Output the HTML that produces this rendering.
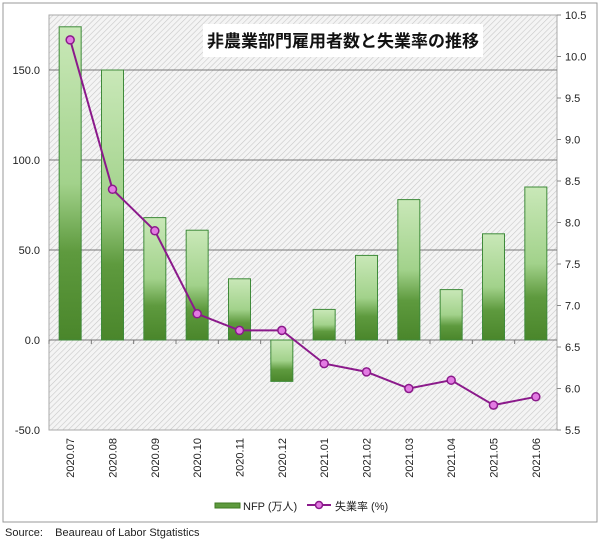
<!DOCTYPE html>
<html><head><meta charset="utf-8"><style>
body{margin:0;background:#fff;width:600px;height:541px;overflow:hidden}
svg{display:block;font-family:"Liberation Sans","Noto Sans CJK JP",sans-serif}
</style></head><body>
<svg id="chart" width="600" height="541">
<defs>
<pattern id="hatch" width="4" height="4" patternUnits="userSpaceOnUse" patternTransform="rotate(45)">
<rect width="4" height="4" fill="#f4f4f4"/><line x1="0" y1="0" x2="0" y2="4" stroke="#c8c8c8" stroke-width="1.2"/>
</pattern>
<linearGradient id="barg" x1="0" y1="0" x2="0" y2="1">
<stop offset="0" stop-color="#c9e8b8"/><stop offset="0.5" stop-color="#a2d28b"/><stop offset="0.72" stop-color="#5e9a3e"/><stop offset="1" stop-color="#4a862b"/>
</linearGradient>
</defs>
<rect x="3" y="3" width="594" height="519" fill="#fff" stroke="#999"/>
<rect x="49" y="15" width="508" height="415" fill="url(#hatch)" stroke="#aaa"/>
<g id="grid"></g><g id="bars"></g><g id="line"></g><g id="axes"></g>
<rect x="203" y="24" width="280" height="33" fill="#fff"/>
<text x="343" y="47" text-anchor="middle" font-size="17" font-weight="bold" fill="#111">非農業部門雇用者数と失業率の推移</text>
<g>
<rect x="215" y="503" width="25" height="5" fill="#5e9a3e" stroke="#3f7a22"/>
<text x="243" y="510" font-size="11" fill="#222">NFP (万人)</text>
<line x1="307" y1="505" x2="331" y2="505" stroke="#8b1a8b" stroke-width="2"/>
<circle cx="319" cy="505" r="3.5" fill="#e27ae2" stroke="#8b1a8b" stroke-width="1.5"/>
<text x="335" y="510" font-size="11" fill="#222">失業率 (%)</text>
</g>
<text x="5" y="536" font-size="11" fill="#222">Source:&#160;&#160;&#160;&#160;Beaureau of Labor Stgatistics</text>
</svg>
<script>
const categories=["2020.07","2020.08","2020.09","2020.10","2020.11","2020.12","2021.01","2021.02","2021.03","2021.04","2021.05","2021.06"];
const nfpValues=[174,150,68,61,34,-23,17,47,78,28,59,85];
const rateValues=[10.2,8.4,7.9,6.9,6.7,6.7,6.3,6.2,6.0,6.1,5.8,5.9];
const leftTicks=[-50,0,50,100,150];
const rightTicks=[5.5,6.0,6.5,7.0,7.5,8.0,8.5,9.0,9.5,10.0,10.5];
const NS="http://www.w3.org/2000/svg";
const X0=49,X1=557,YT=15,YB=430;
const yL=v=>340-v*1.8;
const yR=v=>YB-(v-5.5)/5*(YB-YT);
const bw=(X1-X0)/categories.length;
const xC=i=>X0+bw*(i+0.5);
function mk(tag,attrs,parent){const e=document.createElementNS(NS,tag);for(const k in attrs)e.setAttribute(k,attrs[k]);parent.appendChild(e);return e;}
const grid=document.getElementById('grid'),bars=document.getElementById('bars'),line=document.getElementById('line'),axes=document.getElementById('axes');
leftTicks.forEach(t=>{
 if(t!==-50){const g=mk('line',{x1:X0,x2:X1,y1:yL(t),y2:yL(t),stroke:'#777','stroke-width':1},grid);
 
 }
 const tx=mk('text',{x:40,y:yL(t)+4,'text-anchor':'end','font-size':11,fill:'#222'},axes);tx.textContent=t.toFixed(1);
 
 
});
rightTicks.forEach(t=>{
 const tk=mk('line',{x1:X1,x2:X1+4,y1:yR(t),y2:yR(t),stroke:'#888'},axes);
 
 
 const tx=mk('text',{x:X1+8,y:yR(t)+4,'font-size':11,fill:'#222'},axes);tx.textContent=t.toFixed(1);
 
 
});
categories.forEach((c,i)=>{
 const v=nfpValues[i];const top=Math.min(yL(v),yL(0)),h=Math.abs(yL(v)-yL(0));
 const b=mk('rect',{x:xC(i)-11,y:top,width:22,height:h,fill:'url(#barg)',stroke:'#3f8a3a','stroke-width':1},bars);
 
 
 const tk=mk('line',{x1:X0+bw*i,x2:X0+bw*i,y1:yL(0),y2:yL(0)+4,stroke:'#777'},axes);
 
 
 const tx=mk('text',{x:0,y:0,'font-size':11,fill:'#222','text-anchor':'end',transform:`translate(${xC(i)+4},${YB+8}) rotate(-90)`},axes);tx.textContent=c;
 
 
});
const pts=rateValues.map((v,i)=>xC(i)+','+yR(v)).join(' ');
const pl=mk('polyline',{points:pts,fill:'none',stroke:'#8b1a8b','stroke-width':2},line);


rateValues.forEach((v,i)=>{
 const c=mk('circle',{cx:xC(i),cy:yR(v),r:4,fill:'#e27ae2',stroke:'#8b1a8b','stroke-width':1.5},line);
 
 
});
</script>
</body></html>
